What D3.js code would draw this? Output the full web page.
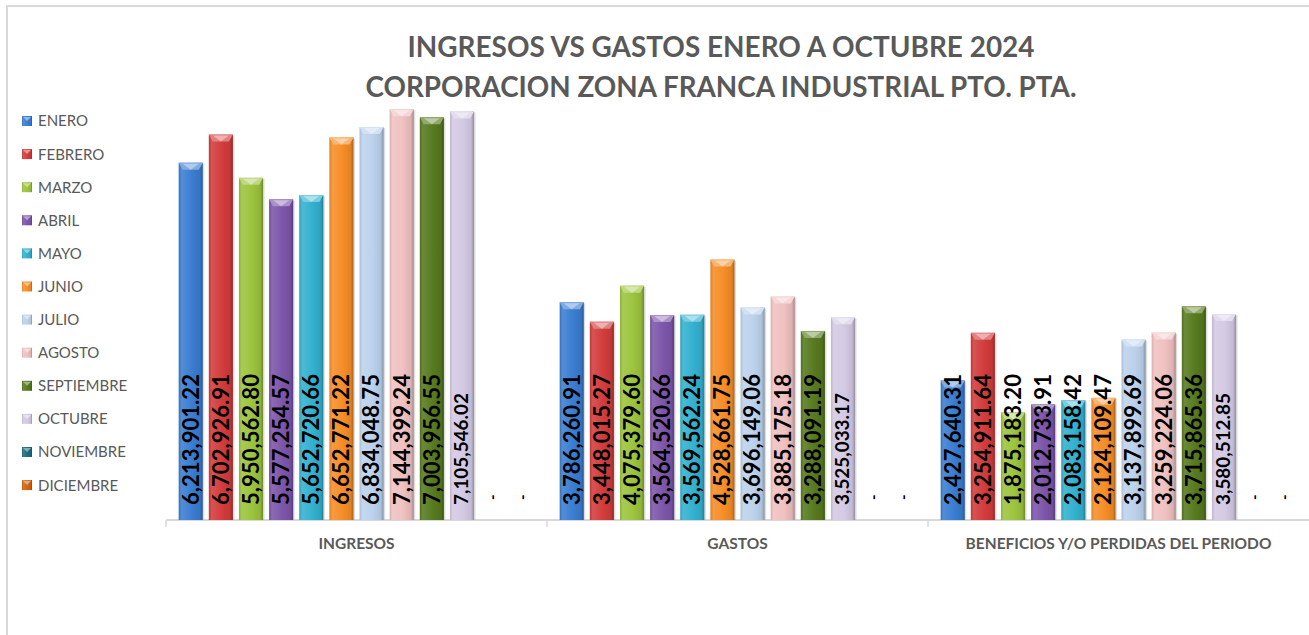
<!DOCTYPE html>
<html>
<head>
<meta charset="utf-8">
<script src="https://cdn.jsdelivr.net/npm/d3@7"></script>
<style>
  body { margin: 0; background: #fff; }
  svg { display: block; font-family: Lato, "Open Sans", sans-serif; }
</style>
</head>
<body>
<script>
// chart data
var months = ["ENERO", "FEBRERO", "MARZO", "ABRIL", "MAYO", "JUNIO", "JULIO",
              "AGOSTO", "SEPTIEMBRE", "OCTUBRE", "NOVIEMBRE", "DICIEMBRE"]
var categories = ["INGRESOS", "GASTOS", "BENEFICIOS Y/O PERDIDAS DEL PERIODO"]

var ingresos = [6213901.22, 6702926.91, 5950562.80, 5577254.57, 5652720.66, 6652771.22,
                6834048.75, 7144399.24, 7003956.55, 7105546.02, null, null]
var gastos = [3786260.91, 3448015.27, 4075379.60, 3564520.66, 3569562.24, 4528661.75,
              3696149.06, 3885175.18, 3288091.19, 3525033.17, null, null]
var beneficios = [2427640.31, 3254911.64, 1875183.20, 2012733.91, 2083158.42, 2124109.47,
                  3137899.69, 3259224.06, 3715865.36, 3580512.85, null, null]

var colors = ["#3b7dd1", "#d33c3c", "#9cc43d", "#7d56aa", "#33b1cf", "#f68d27",
              "#bcd2ec", "#f0c1c1", "#577a1f", "#d4cae4", "#1f6c80", "#d4620f"]

var titleLines = ["INGRESOS VS GASTOS ENERO A OCTUBRE 2024",
                  "CORPORACION ZONA FRANCA INDUSTRIAL PTO. PTA."]

var series = [ingresos, gastos, beneficios]

var width = 1309, height = 635
var baseY = 520

var svg = d3.select("body").append("svg")
    .attr("width", width)
    .attr("height", height)

// chart border (runs off the right and bottom edges)
svg.append("rect")
    .attr("x", 7).attr("y", 6)
    .attr("width", width + 20).attr("height", height + 20)
    .attr("fill", "none")
    .attr("stroke", "#d9d9d9")
    .attr("stroke-width", 2)

var defs = svg.append("defs")
colors.forEach((c, i) => {
    var g = defs.append("linearGradient")
        .attr("id", "grad" + i)
        .attr("x1", "0%").attr("x2", "100%").attr("y1", "0%").attr("y2", "0%")
    g.append("stop").attr("offset", "0%").attr("stop-color", d3.interpolateRgb(c, "#000")(0.1))
    g.append("stop").attr("offset", "12%").attr("stop-color", d3.interpolateRgb(c, "#fff")(0.12))
    g.append("stop").attr("offset", "55%").attr("stop-color", c)
    g.append("stop").attr("offset", "88%").attr("stop-color", d3.interpolateRgb(c, "#000")(0.08))
    g.append("stop").attr("offset", "100%").attr("stop-color", d3.interpolateRgb(c, "#000")(0.3))
})

// title
svg.selectAll(".title")
    .data(titleLines)
    .enter()
    .append("text")
    .attr("class", "title")
    .attr("x", 721)
    .attr("y", (d, i) => 57 + i * 40)
    .attr("text-anchor", "middle")
    .attr("font-size", 28)
    .attr("font-weight", "bold")
    .attr("fill", "#595959")
    .attr("textLength", (d, i) => i == 0 ? 627 : 711)
    .attr("lengthAdjust", "spacingAndGlyphs")
    .text(d => d)

// scales
var x0 = d3.scaleBand()
    .domain(categories)
    .range([166, 1309])

var x1 = d3.scaleBand()
    .domain(months)
    .range([0, x0.bandwidth()])
    .paddingInner(0.2)
    .paddingOuter(0.42)

var y = d3.scaleLinear()
    .domain([0, 7500000])
    .range([baseY, baseY - 7.5 * 57.5])

// axis line + boundary ticks
svg.append("line")
    .attr("x1", 166).attr("x2", width)
    .attr("y1", baseY).attr("y2", baseY)
    .attr("stroke", "#d9d9d9").attr("stroke-width", 2)

svg.selectAll(".btick")
    .data(categories)
    .enter()
    .append("line")
    .attr("x1", d => x0(d)).attr("x2", d => x0(d))
    .attr("y1", baseY).attr("y2", baseY + 7)
    .attr("stroke", "#d9d9d9").attr("stroke-width", 1.5)

var xAxis = svg.append("g")
    .attr("transform", "translate(0," + baseY + ")")
    .call(d3.axisBottom(x0).tickSize(0).tickPadding(18))
xAxis.select(".domain").remove()
xAxis.selectAll("text")
    .attr("font-family", "Lato, sans-serif")
    .attr("font-size", 15.5)
    .attr("font-weight", "bold")
    .attr("fill", "#595959")

// bars
var groups = svg.selectAll(".grp")
    .data(categories)
    .enter()
    .append("g")
    .attr("class", "grp")
    .attr("transform", d => "translate(" + x0(d) + ",0)")

groups.each(function(cat, ci) {
    var g = d3.select(this)
    var vals = months.map((m, i) => ({month: m, i: i, v: series[ci][i]}))
    var bw = x1.bandwidth()

    var bars = g.selectAll(".bar")
        .data(vals.filter(d => d.v != null))
        .enter()
        .append("g")

    // soft shadow
    bars.append("rect")
        .attr("x", d => x1(d.month) + 1.5)
        .attr("y", d => y(d.v) + 1)
        .attr("width", bw)
        .attr("height", d => baseY - y(d.v) - 1)
        .attr("fill", "#bbb")
        .attr("opacity", 0.5)

    bars.append("rect")
        .attr("x", d => x1(d.month))
        .attr("y", d => y(d.v))
        .attr("width", bw)
        .attr("height", d => baseY - y(d.v))
        .attr("fill", d => "url(#grad" + d.i + ")")

    // bevel cap on top
    bars.append("polygon")
        .attr("points", d => {
            var xl = x1(d.month), t = y(d.v)
            return [[xl, t], [xl + bw, t], [xl + bw - 4, t + 7], [xl + 4, t + 7]].join(" ")
        })
        .attr("fill", d => d3.interpolateRgb(colors[d.i], "#fff")(0.35))
    bars.append("polygon")
        .attr("points", d => {
            var xl = x1(d.month), t = y(d.v)
            return [[xl + 4, t + 1], [xl + bw - 4, t + 1], [xl + bw / 2, t + 7]].join(" ")
        })
        .attr("fill", d => d3.interpolateRgb(colors[d.i], "#fff")(0.6))

    // value labels
    g.selectAll(".lbl")
        .data(vals)
        .enter()
        .append("text")
        .attr("transform", d => {
            var cx = x1(d.month) + bw / 2
            var yy = d.v == null ? 500 : 505
            return "translate(" + cx + "," + yy + ") rotate(-90)"
        })
        .attr("dy", "0.36em")
        .attr("font-family", "Lato, sans-serif")
        .attr("font-weight", "bold")
        .attr("font-size", d => d.v == null ? 15 : (d.i == 9 ? 18 : 22))
        .attr("fill", "#000")
        .attr("textLength", d => d.v == null ? null : (d.i == 9 ? 112 : 131))
        .attr("lengthAdjust", "spacingAndGlyphs")
        .text(d => d.v == null ? "-" : d3.format(",.2f")(d.v))
})

// legend
var legend = svg.selectAll(".leg")
    .data(months)
    .enter()
    .append("g")
    .attr("transform", (d, i) => "translate(22," + (121 + i * 33.1) + ")")

legend.append("rect")
    .attr("x", 0).attr("y", -5)
    .attr("width", 10).attr("height", 10)
    .attr("fill", (d, i) => "url(#grad" + i + ")")
legend.append("polygon")
    .attr("points", "1,-4 9,-4 5,0")
    .attr("fill", (d, i) => d3.interpolateRgb(colors[i], "#fff")(0.45))

legend.append("text")
    .attr("x", 16)
    .attr("dy", "0.36em")
    .attr("font-size", 15)
    .attr("fill", "#595959")
    .text(d => d)
</script>
</body>
</html>
